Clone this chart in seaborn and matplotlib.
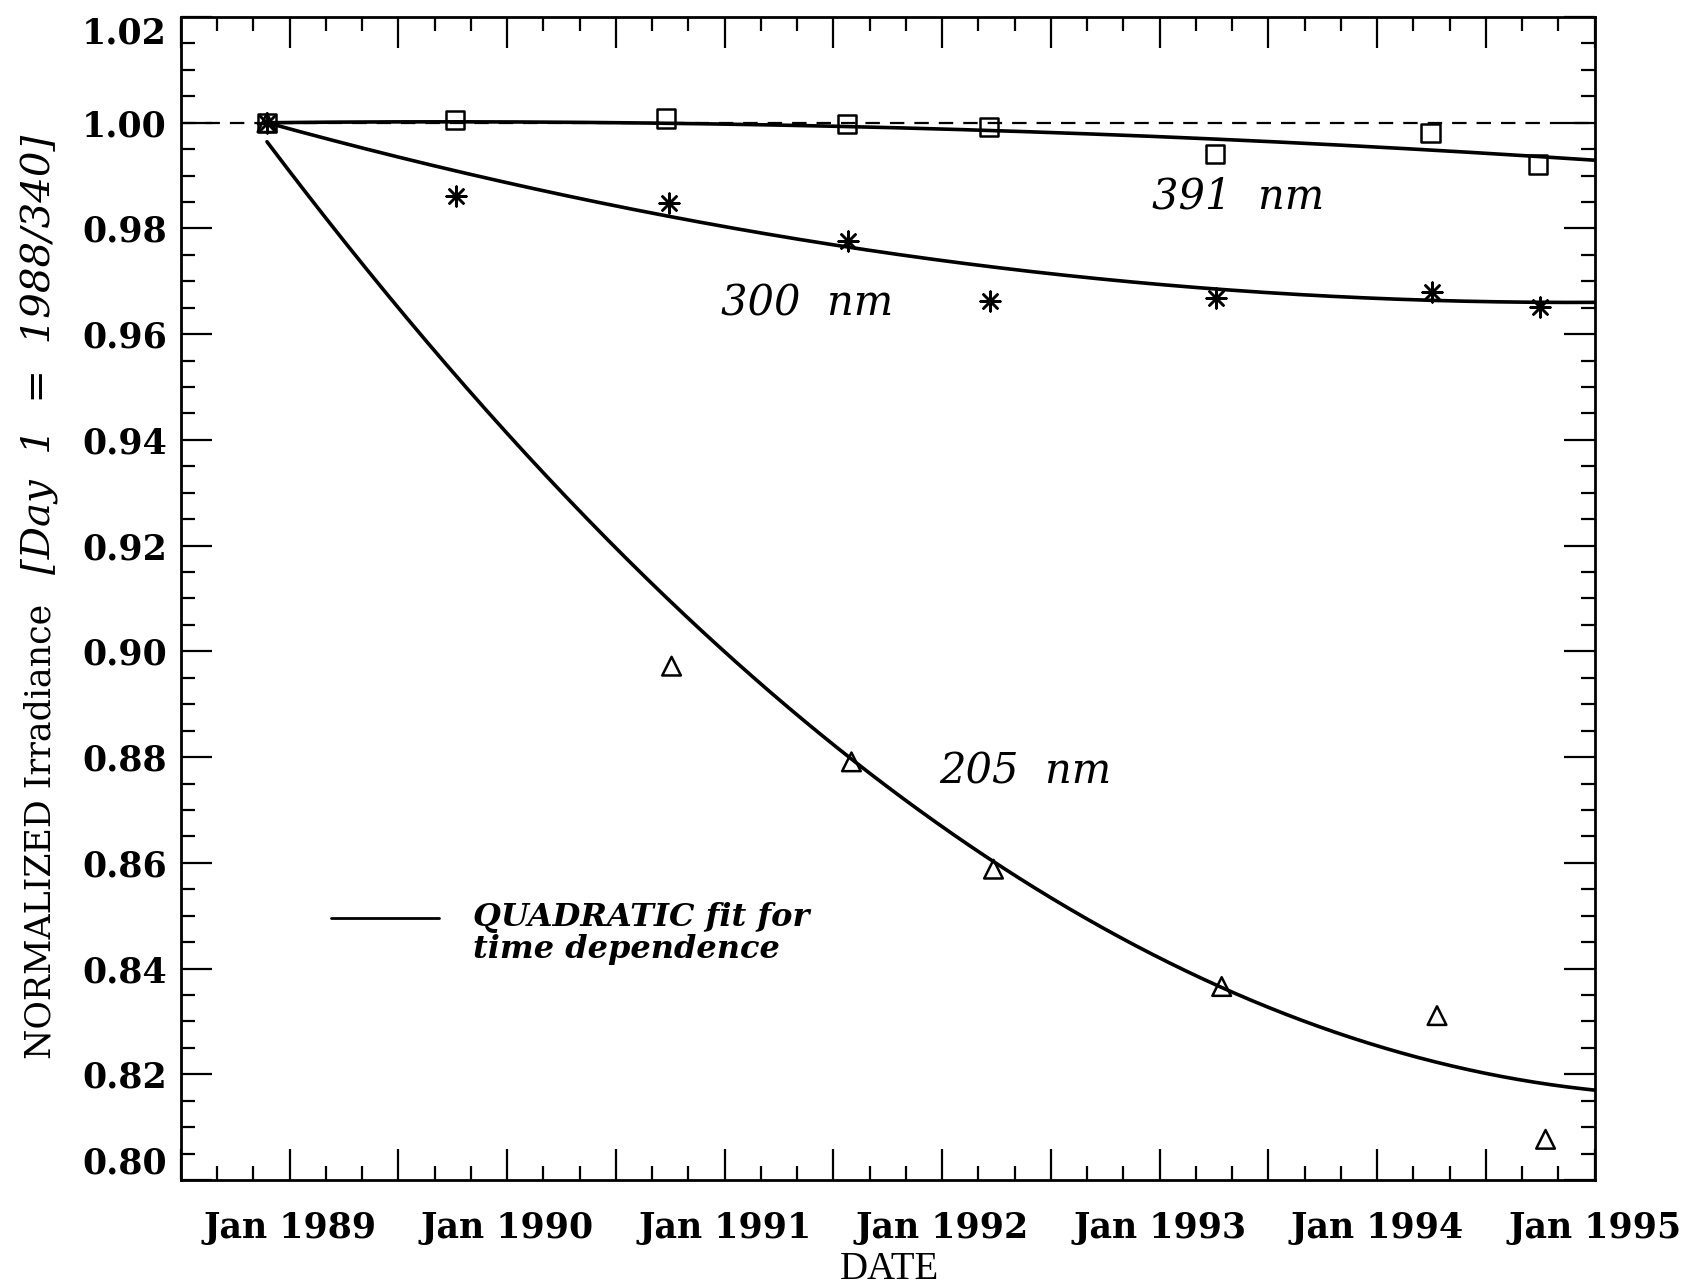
import numpy as np
import pandas as pd
import matplotlib
matplotlib.use("Agg")
import matplotlib.pyplot as plt
from matplotlib.ticker import FixedLocator, MultipleLocator, FuncFormatter
import seaborn as sns

sns.set_theme(style="white")
plt.rcParams["font.family"] = ["DejaVu Serif", "DejaVu Sans"]
plt.rcParams["text.color"] = "black"
plt.rcParams["axes.labelcolor"] = "black"
plt.rcParams["xtick.color"] = "black"
plt.rcParams["ytick.color"] = "black"

# Measured normalized irradiance (decimal year, value) for each band
years_391 = [1988.896, 1989.762, 1990.732, 1991.563, 1992.216, 1993.255, 1994.245, 1994.739]
irr_391 = [1.0000, 1.0005, 1.0008, 0.9998, 0.9992, 0.9941, 0.9980, 0.9921]

years_300 = [1988.896, 1989.767, 1990.742, 1991.568, 1992.221, 1993.260, 1994.250, 1994.749]
irr_300 = [1.0000, 0.9862, 0.9849, 0.9776, 0.9662, 0.9668, 0.9680, 0.9652]

years_205 = [1988.896, 1990.756, 1991.583, 1992.236, 1993.285, 1994.275, 1994.774]
irr_205 = [1.0000, 0.8972, 0.8791, 0.8588, 0.8366, 0.8311, 0.8077]

# Quadratic time-dependence fits: value = c0 + c1*t + c2*t^2, t in years since day 1
fit_start = 1988.896
fit_end = 1995.0
fit_391 = [1.0000, 0.000416, -0.0002586]
fit_300 = [1.0000, -0.01133, 0.000944]
fit_205 = [0.9964, -0.05452, 0.004117]

band_labels = ["391  nm", "300  nm", "205  nm"]
label_years = [1993.36, 1991.38, 1992.38]
label_values = [0.9860, 0.9658, 0.8773]

year_ticks = [1989, 1990, 1991, 1992, 1993, 1994, 1995]
y_ticks = [0.80, 0.82, 0.84, 0.86, 0.88, 0.90, 0.92, 0.94, 0.96, 0.98, 1.00, 1.02]

points = pd.concat([
    pd.DataFrame({"year": years_391, "value": irr_391, "band": "391"}),
    pd.DataFrame({"year": years_300, "value": irr_300, "band": "300"}),
    pd.DataFrame({"year": years_205, "value": irr_205, "band": "205"}),
], ignore_index=True)

t = np.linspace(0.0, fit_end - fit_start, 400)
curves = pd.concat([
    pd.DataFrame({"year": fit_start + t,
                  "value": c[0] + c[1] * t + c[2] * t ** 2,
                  "band": b})
    for b, c in (("391", fit_391), ("300", fit_300), ("205", fit_205))
], ignore_index=True)

fig = plt.figure(figsize=(16.87, 12.85), dpi=100)
ax = fig.add_axes([0.1072, 0.0817, 0.8381, 0.9051])
ax.set_facecolor("white")

# Reference level
ax.axhline(1.0, color="black", lw=1.6, ls=(0, (6.5, 4.5)), zorder=1)

# Fitted curves
for b in ("391", "300", "205"):
    sns.lineplot(data=curves[curves.band == b], x="year", y="value",
                 color="black", lw=2.6, ax=ax, estimator=None, sort=False,
                 legend=False, zorder=2)

# Measurements
sns.scatterplot(data=points[points.band == "391"], x="year", y="value",
                marker="s", s=170, facecolor="none", edgecolor="black",
                linewidth=1.8, ax=ax, legend=False, zorder=3)
sns.scatterplot(data=points[points.band == "300"], x="year", y="value",
                marker=(8, 2, 0), s=200, color="black",
                linewidth=1.8, ax=ax, legend=False, zorder=3)
sns.scatterplot(data=points[points.band == "205"], x="year", y="value",
                marker="^", s=180, facecolor="none", edgecolor="black",
                linewidth=1.8, ax=ax, legend=False, zorder=3)

for txt, xv, yv in zip(band_labels, label_years, label_values):
    ax.text(xv, yv, txt, fontsize=30, style="italic", ha="center", va="center",
            family="DejaVu Serif", color="black")

ax.set_xlim(1988.5, 1995.0)
ax.set_ylim(0.80, 1.02)

# Axis ticks: labelled years, half-year majors, two-month minors
half_years = np.arange(1988.5, 1995.01, 0.5)
ax.xaxis.set_major_locator(FixedLocator(half_years))
ax.xaxis.set_major_formatter(FuncFormatter(
    lambda v, p: f"Jan {int(round(v))}" if abs(v - round(v)) < 1e-6 and round(v) in year_ticks else ""))
ax.xaxis.set_minor_locator(MultipleLocator(1 / 6))
ax.yaxis.set_major_locator(FixedLocator(y_ticks))
ax.yaxis.set_major_formatter(FuncFormatter(lambda v, p: f"{v:.2f}"))
ax.yaxis.set_minor_locator(MultipleLocator(0.005))

ax.tick_params(which="both", direction="in", top=True, right=True,
               bottom=True, left=True, color="black", width=1.6)
ax.tick_params(which="major", length=22)
ax.tick_params(which="minor", length=10)
ax.tick_params(axis="x", which="major", pad=22, labelsize=25)
ax.tick_params(axis="y", which="major", pad=10, labelsize=25)
for lab in ax.get_xticklabels() + ax.get_yticklabels():
    lab.set_fontweight("bold")
    lab.set_family("DejaVu Serif")
    lab.set_color("black")

ylabs = ax.get_yticklabels()
ylabs[0].set_va("bottom")
ylabs[-1].set_va("top")

for sp in ax.spines.values():
    sp.set_visible(True)
    sp.set_color("black")
    sp.set_linewidth(2.0)

ax.set_xlabel("")
ax.set_ylabel("")

fig.text(0.527, 0.005, "DATE", fontsize=28, family="Liberation Serif",
         ha="center", va="baseline", color="black")
fig.text(0.024, 0.353, "NORMALIZED Irradiance", fontsize=25, family="DejaVu Serif",
         rotation=90, ha="center", va="center", color="black")
fig.text(0.024, 0.724, "[Day  1  =  1988/340]", fontsize=29, family="DejaVu Serif",
         style="italic", rotation=90, ha="center", va="center", color="black")

# Legend key for the fitted curves
ax.plot([0.1063, 0.1827], [0.2253, 0.2253], color="black", lw=2.0,
        transform=ax.transAxes, clip_on=False)
ax.text(0.2067, 0.2253, "QUADRATIC fit for", transform=ax.transAxes,
        fontsize=23, style="italic", weight="bold", ha="left", va="center",
        color="black")
ax.text(0.2067, 0.1980, "time dependence", transform=ax.transAxes,
        fontsize=23, style="italic", weight="bold", ha="left", va="center",
        color="black")

fig.savefig("out.png", dpi=100, facecolor="white")
